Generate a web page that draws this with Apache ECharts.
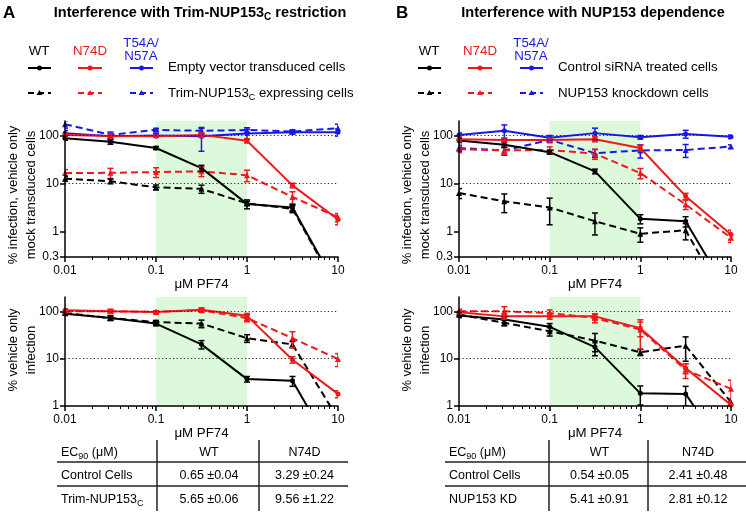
<!DOCTYPE html>
<html><head><meta charset="utf-8">
<script src="https://cdn.jsdelivr.net/npm/echarts@6/dist/echarts.min.js"></script>
<style>html,body{margin:0;padding:0;background:#fff}#c{width:746px;height:514px}</style>
</head><body><div id="c"></div>
<script>
// ---------- data ----------
const doses = [0.01, 0.0316, 0.1, 0.316, 1, 3.16, 10];
const xMajorTicks = [0.01, 0.1, 1, 10];
const xMinorTicks = [0.02,0.03,0.04,0.05,0.06,0.07,0.08,0.09,0.2,0.3,0.4,0.5,0.6,0.7,0.8,0.9,2,3,4,5,6,7,8,9];
const yTicksTop = [0.3, 1, 10, 100];
const yTicksBottom = [1, 10, 100];
const refLines = [10, 100];

// Panel A, top (% infection, vehicle only mock transduced cells)
const aTopWT        = [88, 74, 55, 21, 3.8, 3.2, 0.065];
const aTopWTTrim    = [12.7, 11.2, 8.4, 7.8, 3.9, 3.0, 0.06];
const aTopN74D      = [103, 98, 97, 103, 78, 9.2, 1.8];
const aTopN74DTrim  = [16.6, 16.8, 17.4, 18, 15, 5.3, 2.0];
const aTopT54A      = [112, 96, 100, 97, 110, 117, 117];
const aTopT54ATrim  = [172, 103, 131, 125, 130, 121, 141];
const aTopWTErr       = [8, 8, 4, 3, 0.8, 0.5, 0];
const aTopWTTrimErr   = [1.5, 1.2, 1.0, 1.5, 0.4, 0.5, 0];
const aTopN74DErr     = [10, 10, 5, 12, 8, 1, 0.4];
const aTopN74DTrimErr = [3, 4, 4, 4, 4, 1.5, 0.4];
const aTopT54AErr     = [15, 15, 8, 50, 25, 10, 20];
const aTopT54ATrimErr = [30, 15, 10, 15, 15, 10, 30];

// Panel A, bottom (% vehicle only infection)
const aBotWT        = [89, 72, 55, 20, 3.7, 3.4, 0.074];
const aBotWTTrim    = [92, 72, 59, 55, 27, 20, 0.54];
const aBotN74D      = [105, 100, 97, 108, 80, 9.5, 1.8];
const aBotN74DTrim  = [100, 100, 97, 105, 72, 27, 9.8];
const aBotWTErr       = [8, 8, 6, 4, 0.5, 0.8, 0];
const aBotWTTrimErr   = [6, 8, 5, 10, 5, 3, 0];
const aBotN74DErr     = [8, 8, 5, 10, 10, 1.5, 0.3];
const aBotN74DTrimErr = [5, 10, 5, 8, 12, 10, 3];

// Panel B, top
const bTopWT        = [79, 64, 45, 18, 1.86, 1.66, 0.043];
const bTopWTKD      = [6.4, 4.3, 3.2, 1.66, 0.91, 1.08, 0.024];
const bTopN74D      = [84, 81, 81, 84, 55, 5.5, 0.88];
const bTopN74DKD    = [52, 49, 50, 42, 16.6, 3.7, 0.75];
const bTopT54A      = [103, 126, 90, 112, 92, 108, 94];
const bTopT54AKD    = [55, 49, 81, 43, 49, 50, 59];
const bTopWTErr       = [8, 8, 4, 2, 0.4, 0.4, 0];
const bTopWTKDErr     = [1.5, 1.8, 1.8, 0.8, 0.3, 0.4, 0];
const bTopN74DErr     = [10, 8, 8, 10, 8, 0.8, 0.2];
const bTopN74DKDErr   = [8, 8, 8, 10, 4, 0.8, 0.15];
const bTopT54AErr     = [10, 40, 10, 30, 8, 20, 8];
const bTopT54AKDErr   = [8, 10, 10, 8, 15, 15, 5];

// Panel B, bottom
const bBotWT        = [81, 67, 47, 17.5, 1.85, 1.8, 0.07];
const bBotWTKD      = [85, 57, 38, 24, 13.6, 18.8, 1.2];
const bBotN74D      = [95, 78, 78, 78, 44, 6.3, 1.05];
const bBotN74DKD    = [100, 100, 92, 72, 41, 5.8, 2.3];
const bBotWTErr       = [8, 10, 8, 6, 0.8, 0.8, 0];
const bBotWTKDErr     = [8, 8, 8, 10, 2, 10, 0.2];
const bBotN74DErr     = [8, 10, 10, 10, 15, 1.5, 0.2];
const bBotN74DKDErr   = [10, 25, 15, 15, 25, 2, 1.2];

// texts
const titleA = ['Interference with Trim-NUP153', 'C', ' restriction'];
const titleB = 'Interference with NUP153 dependence';
const legendVariants = ['WT', 'N74D', 'T54A/\nN57A'];
const legendRowsA = [['Empty vector transduced cells'], ['Trim-NUP153', 'C', ' expressing cells']];
const legendRowsB = [['Control siRNA treated cells'], ['NUP153 knockdown cells']];
const yNameTop = '% infection, vehicle only\nmock transduced cells';
const yNameBottom = '% vehicle only\ninfection';
const xName = 'μM PF74';
const tableHeader = ['EC90 (μM)', 'WT', 'N74D'];
const tableA = [['Control Cells', '0.65 ±0.04', '3.29 ±0.24'], ['Trim-NUP153C', '5.65 ±0.06', '9.56 ±1.22']];
const tableB = [['Control Cells', '0.54 ±0.05', '2.41 ±0.48'], ['NUP153 KD', '5.41 ±0.91', '2.81 ±0.12']];

// ---------- styling ----------
const FONT = "'Liberation Sans', Arial, sans-serif";
const BLACK = '#000000', RED = '#f01818', BLUE = '#1818e8', GREEN = '#dcf9dc';
const colorsV = [BLACK, RED, BLUE];

const grids = [
  {left: 65, top: 121, width: 273, height: 136},
  {left: 65, top: 297, width: 273, height: 109},
  {left: 459, top: 121, width: 272, height: 136},
  {left: 459, top: 297, width: 272, height: 109}
];
const yRanges = [[0.3, 200], [1, 200], [0.3, 200], [1, 200]];
const yTickSets = [yTicksTop, yTicksBottom, yTicksTop, yTicksBottom];

function fmt(v) { return String(+(+v).toPrecision(3)); }

const xAxes = [], yAxes = [], series = [];
grids.forEach((g, i) => {
  xAxes.push({
    type: 'log', logBase: 10, min: 0.01, max: 10, gridIndex: i, z: 10, position: 'bottom', offset: 0,
    name: xName, nameLocation: 'middle', nameGap: i % 2 === 0 ? 18 : 17,
    nameTextStyle: {color: BLACK, fontSize: 13.3, fontFamily: FONT, verticalAlign: 'top'},
    axisLine: {lineStyle: {color: BLACK, width: 1.5}},
    axisTick: {customValues: xMajorTicks, length: 5, lineStyle: {color: BLACK, width: 1.5}},
    axisLabel: {customValues: xMajorTicks, formatter: fmt, color: BLACK, fontSize: 12, fontFamily: FONT, margin: 8},
    splitLine: {show: false}, minorTick: {show: false}
  });
  xAxes.push({
    type: 'log', logBase: 10, min: 0.01, max: 10, gridIndex: i, z: 10, position: 'bottom', offset: 0,
    axisLine: {show: false},
    axisTick: {customValues: xMinorTicks, length: 3, lineStyle: {color: BLACK, width: 1}},
    axisLabel: {show: false}, splitLine: {show: false}
  });
  yAxes.push({
    type: 'log', logBase: 10, min: yRanges[i][0], max: yRanges[i][1], gridIndex: i, z: 10,
    axisLine: {show: true, lineStyle: {color: BLACK, width: 1.5}},
    axisTick: {show: true, customValues: yTickSets[i], length: 5, lineStyle: {color: BLACK, width: 1.5}},
    axisLabel: {customValues: yTickSets[i], formatter: fmt, color: BLACK, fontSize: 12, fontFamily: FONT, margin: 6},
    splitLine: {show: false}
  });
  // green band
  series.push({
    type: 'line', data: [], xAxisIndex: 2 * i, yAxisIndex: i, z: 0, silent: true,
    markArea: {silent: true, itemStyle: {color: GREEN}, data: [[{xAxis: 0.1}, {xAxis: 1}]]}
  });
  // dotted reference lines
  series.push({
    type: 'line', data: [], xAxisIndex: 2 * i, yAxisIndex: i, z: 1, silent: true,
    markLine: {silent: true, symbol: ['none', 'none'], label: {show: false},
      lineStyle: {color: '#222', width: 1, type: [1.2, 2.4]},
      data: refLines.map(v => ({yAxis: v}))}
  });
});

function addCurve(gi, vals, errs, color, dashed) {
  series.push({
    type: 'line', xAxisIndex: 2 * gi, yAxisIndex: gi, z: 3, clip: true,
    data: doses.map((d, k) => [d, vals[k]]),
    symbol: dashed ? 'triangle' : 'circle', symbolSize: dashed ? 6 : 5,
    itemStyle: {color: color}, lineStyle: {color: color, width: 2, type: dashed ? [7, 4] : 'solid'},
    emphasis: {disabled: true}, animation: false
  });
  series.push({
    type: 'custom', xAxisIndex: 2 * gi, yAxisIndex: gi, z: 4, clip: true,
    data: doses.map((d, k) => [d, vals[k], errs[k]]).filter(r => r[2] > 0),
    encode: {x: 0, y: 1},
    renderItem: function (params, api) {
      const x = api.value(0), v = api.value(1), e = api.value(2);
      const lo = Math.max(v - e, v * 0.1);
      const p1 = api.coord([x, v + e]), p2 = api.coord([x, lo]);
      const w = 3, st = {stroke: color, lineWidth: 1.5};
      return {type: 'group', children: [
        {type: 'line', shape: {x1: p1[0], y1: p1[1], x2: p2[0], y2: p2[1]}, style: st},
        {type: 'line', shape: {x1: p1[0] - w, y1: p1[1], x2: p1[0] + w, y2: p1[1]}, style: st},
        {type: 'line', shape: {x1: p2[0] - w, y1: p2[1], x2: p2[0] + w, y2: p2[1]}, style: st}
      ]};
    },
    animation: false
  });
}

// Panel A top
addCurve(0, aTopT54ATrim, aTopT54ATrimErr, BLUE, true);
addCurve(0, aTopT54A, aTopT54AErr, BLUE, false);
addCurve(0, aTopN74DTrim, aTopN74DTrimErr, RED, true);
addCurve(0, aTopWTTrim, aTopWTTrimErr, BLACK, true);
addCurve(0, aTopWT, aTopWTErr, BLACK, false);
addCurve(0, aTopN74D, aTopN74DErr, RED, false);
// Panel A bottom
addCurve(1, aBotWTTrim, aBotWTTrimErr, BLACK, true);
addCurve(1, aBotWT, aBotWTErr, BLACK, false);
addCurve(1, aBotN74DTrim, aBotN74DTrimErr, RED, true);
addCurve(1, aBotN74D, aBotN74DErr, RED, false);
// Panel B top
addCurve(2, bTopT54AKD, bTopT54AKDErr, BLUE, true);
addCurve(2, bTopT54A, bTopT54AErr, BLUE, false);
addCurve(2, bTopN74DKD, bTopN74DKDErr, RED, true);
addCurve(2, bTopWTKD, bTopWTKDErr, BLACK, true);
addCurve(2, bTopWT, bTopWTErr, BLACK, false);
addCurve(2, bTopN74D, bTopN74DErr, RED, false);
// Panel B bottom
addCurve(3, bBotWTKD, bBotWTKDErr, BLACK, true);
addCurve(3, bBotWT, bBotWTErr, BLACK, false);
addCurve(3, bBotN74DKD, bBotN74DKDErr, RED, true);
addCurve(3, bBotN74D, bBotN74DErr, RED, false);

// ---------- graphics: titles, legends, y names, tables ----------
const G = [];
function subText(parts, size, bold) {
  let t = '{n|' + parts[0] + '}';
  if (parts.length > 1) t += '{s|' + parts[1] + '}' + (parts[2] ? '{n|' + parts[2] + '}' : '');
  return {
    text: t,
    rich: {
      n: {fontSize: size, fontFamily: FONT, color: BLACK, fontWeight: bold ? 'bold' : 'normal', lineHeight: size + 4},
      s: {fontSize: Math.round(size * 0.68), fontFamily: FONT, color: BLACK, fontWeight: bold ? 'bold' : 'normal', verticalAlign: 'bottom'}
    }
  };
}
function txt(x, y, text, opts) {
  G.push({type: 'text', x: x, y: y, silent: true, style: Object.assign({
    text: text, fontFamily: FONT, fontSize: 13.3, fill: BLACK, align: 'left', verticalAlign: 'middle'
  }, opts || {})});
}
function seg(x1, y1, x2, y2, color, w, dash) {
  G.push({type: 'line', silent: true, shape: {x1, y1, x2, y2},
    style: {stroke: color, lineWidth: w, lineDash: dash || null}});
}

// Panel letters & titles
txt(3, 13, 'A', {fontSize: 17, fontWeight: 'bold'});
txt(396, 13, 'B', {fontSize: 17, fontWeight: 'bold'});
G.push({type: 'text', x: 200, y: 13, silent: true,
  style: Object.assign(subText(titleA, 14.5, true), {align: 'center', verticalAlign: 'middle'})});
G.push({type: 'text', x: 593, y: 13, silent: true,
  style: Object.assign(subText([titleB], 14.5, true), {align: 'center', verticalAlign: 'middle'})});

// Legends
function legend(ox, rows) {
  const cx = [39, 90, 141];
  const lx = [[28, 51], [78, 102], [130, 153]];
  legendVariants.forEach((lab, k) => {
    txt(ox + cx[k], k === 2 ? 50 : 51, lab, {fill: colorsV[k], align: 'center', lineHeight: 13.5, fontSize: 13.3});
    const y1 = 68, y2 = 93;
    seg(ox + lx[k][0], y1, ox + lx[k][1], y1, colorsV[k], 2);
    const mx = ox + (lx[k][0] + lx[k][1]) / 2;
    G.push({type: 'circle', silent: true, shape: {cx: mx, cy: y1, r: 2.5}, style: {fill: colorsV[k]}});
    seg(ox + lx[k][0], y2, ox + lx[k][1], y2, colorsV[k], 2, [6, 4]);
    G.push({type: 'polygon', silent: true, shape: {points: [[mx, y2 - 3], [mx - 3, y2 + 2], [mx + 3, y2 + 2]]}, style: {fill: colorsV[k]}});
  });
  G.push({type: 'text', x: ox + 168, y: 67, silent: true,
    style: Object.assign(subText(rows[0], 13.3, false), {align: 'left', verticalAlign: 'middle'})});
  G.push({type: 'text', x: ox + 168, y: 93, silent: true,
    style: Object.assign(subText(rows[1], 13.3, false), {align: 'left', verticalAlign: 'middle'})});
}
legend(0, legendRowsA);
legend(390, legendRowsB);

// Y axis names (rotated)
function yName(x, y, text) {
  G.push({type: 'text', x: x, y: y, rotation: Math.PI / 2, silent: true,
    style: {text: text, fontFamily: FONT, fontSize: 13, fill: BLACK, align: 'center', verticalAlign: 'middle', lineHeight: 18}});
}
yName(22, 195, yNameTop);
yName(22, 350, yNameBottom);
yName(416, 195, yNameTop);
yName(416, 350, yNameBottom);

// Tables
function table(left, right, v1, v2, rows) {
  const top = 440, bottom = 511, h1 = 462, h2 = 486;
  const rowsY = [453, 476, 500];
  seg(left, h1, right, h1, '#222', 1.5);
  seg(left, h2, right, h2, '#222', 1.5);
  seg(v1, top, v1, bottom, '#222', 1.5);
  seg(v2, top, v2, bottom, '#222', 1.5);
  const c1 = (v1 + v2) / 2 + 1, c2 = (v2 + Math.min(right, v2 + 100)) / 2 + 1;
  const tf = {fontSize: 12.5, fontFamily: FONT};
  G.push({type: 'text', x: left + 4, y: rowsY[0], silent: true,
    style: Object.assign(subText(['EC', '90', ' (μM)'], 12.5, false), {align: 'left', verticalAlign: 'middle'})});
  txt(c1, rowsY[0], tableHeader[1], Object.assign({align: 'center'}, tf));
  txt(c2, rowsY[0], tableHeader[2], Object.assign({align: 'center'}, tf));
  rows.forEach((r, k) => {
    const y = rowsY[k + 1];
    if (r[0] === 'Trim-NUP153C') {
      G.push({type: 'text', x: left + 4, y: y, silent: true,
        style: Object.assign(subText(['Trim-NUP153', 'C', ''], 12.5, false), {align: 'left', verticalAlign: 'middle'})});
    } else {
      txt(left + 4, y, r[0], tf);
    }
    txt(c1, y, r[1], Object.assign({align: 'center'}, tf));
    txt(c2, y, r[2], Object.assign({align: 'center'}, tf));
  });
}
table(57, 348, 157, 259, tableA);
table(445, 746, 549, 648, tableB);

const chart = echarts.init(document.getElementById('c'), null, {renderer: 'canvas'});
chart.setOption({
  animation: false,
  backgroundColor: '#ffffff',
  textStyle: {fontFamily: FONT},
  grid: grids,
  xAxis: xAxes,
  yAxis: yAxes,
  series: series,
  graphic: {elements: G}
});
</script></body></html>
